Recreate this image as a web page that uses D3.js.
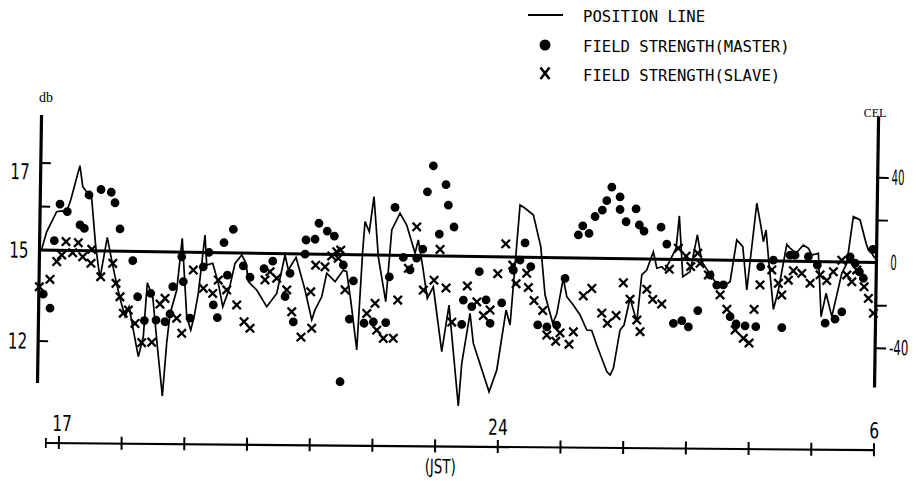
<!DOCTYPE html>
<html><head><meta charset="utf-8">
<script src="https://cdn.jsdelivr.net/npm/d3@7"></script>
<style>
body{margin:0;background:#fff;}
svg{display:block;}
</style></head><body>
<svg id="c" width="921" height="481"></svg>
<script>
// ---- data ----
// position line: hour (JST, 24 = midnight, 30 = 6 h), CEL
const posHour = [16.692,16.767,16.922,17.011,17.071,17.143,17.282,17.332,17.423,17.477,17.553,17.628,17.735,17.799,17.868,17.952,18.037,18.098,18.258,18.333,18.384,18.474,18.560,18.651,18.708,18.754,18.855,18.931,19.021,19.088,19.137,19.200,19.293,19.327,19.423,19.517,19.593,19.694,19.778,19.884,19.954,19.995,20.131,20.294,20.451,20.574,20.630,20.750,20.901,21.015,21.065,21.169,21.243,21.378,21.507,21.561,21.632,21.740,21.812,21.842,21.912,21.979,22.062,22.191,22.270,22.398,22.507,22.647,22.696,22.773,22.853,22.946,23.096,23.201,23.373,23.418,23.538,23.598,23.860,23.978,24.112,24.179,24.310,24.391,24.525,24.650,24.730,24.860,24.921,25.017,25.077,25.183,25.293,25.404,25.483,25.566,25.732,25.786,25.837,25.934,25.997,26.086,26.199,26.268,26.346,26.447,26.506,26.585,26.638,26.809,26.853,26.922,27.037,27.145,27.222,27.439,27.598,27.678,27.774,27.872,27.946,28.085,28.153,28.199,28.239,28.282,28.375,28.450,28.573,28.627,28.722,28.837,28.919,28.974,29.079,29.137,29.211,29.308,29.457,29.534,29.628,29.736,29.837,29.875,29.930,29.982];
const posCel = [0.3,8.6,18.1,18.5,17.4,23.7,39.9,30.0,26.5,24.6,1.9,-12.9,6.4,-2.6,-12.0,-22.1,-30.7,-26.0,-49.4,-40.0,-14.6,-21.1,-44.6,-67.7,-42.6,-29.1,-17.8,6.5,-30.3,-36.5,-30.5,-19.2,8.2,-5.9,-5.0,-14.4,-25.4,-16.7,-4.9,-0.9,-4.8,-13.4,-17.3,-25.0,-18.7,-0.6,-7.6,-1.6,-16.9,-30.9,-26.2,-20.0,-8.9,-12.8,-7.3,-8.0,-21.3,-44.7,2.3,15.6,10.9,27.4,-0.8,-21.8,11.9,19.8,14.3,1.1,7.4,-5.2,-20.0,-14.5,-44.9,-23.0,-70.3,-50.2,-26.7,-40.8,-63.4,-53.1,-24.9,-31.9,24.5,23.0,19.9,5.1,-17.6,-30.8,-26.3,-9.6,-18.2,-22.1,-26.7,-33.7,-33.9,-40.7,-53.1,-54.7,-51.5,-33.5,-31.1,-18.5,-29.5,-7.5,-5.1,3.5,-4.2,-3.5,-5.0,5.3,20.5,-8.0,-5.6,11.7,-0.8,-10.1,-11.6,-10.0,9.6,6.5,-13.8,27.0,16.8,9.0,14.5,2.0,-22.7,-13.6,7.9,6.1,3.8,7.7,6.2,3.1,3.9,-25.8,-14.8,-25.7,-5.3,-0.6,21.4,19.9,9.0,5.8,4.3,2.0];

// field strength (master), dB
const masterHour = [16.728,16.839,16.891,16.973,17.091,17.297,17.367,17.434,17.624,17.788,17.850,17.936,18.147,18.234,18.346,18.441,18.532,18.676,18.754,18.791,18.927,18.958,19.073,19.273,19.360,19.442,19.509,19.598,19.659,19.743,19.911,20.021,20.242,20.380,20.584,20.658,20.722,20.893,20.905,21.049,21.108,21.242,21.356,21.506,21.670,21.614,21.482,21.850,21.998,22.196,22.242,22.317,22.461,22.571,22.675,22.769,22.829,22.918,23.029,23.124,23.166,23.262,23.408,23.428,23.564,23.676,23.790,23.860,24.041,24.218,24.323,24.399,24.495,24.620,24.766,24.923,25.045,25.247,25.315,25.417,25.509,25.623,25.692,25.769,25.903,25.906,26.005,26.161,26.217,26.293,26.564,26.659,26.783,26.917,27.023,27.169,27.357,27.466,27.571,27.686,27.783,27.927,28.098,28.163,28.363,28.514,28.628,28.708,28.920,29.065,29.203,29.360,29.466,29.585,29.667,29.737,29.802,29.946];
const masterDb = [13.53,13.07,15.21,16.05,15.88,15.58,15.50,16.27,16.40,16.34,16.10,15.50,14.68,13.49,12.71,13.61,12.73,12.68,12.94,13.84,14.83,14.01,12.81,14.51,14.99,13.26,12.84,15.22,14.25,15.53,14.56,14.19,14.48,14.73,13.57,14.34,12.74,14.98,15.31,15.33,15.70,15.52,15.41,14.64,14.12,12.86,10.79,12.73,12.78,12.76,14.27,16.09,14.92,14.51,14.90,15.14,16.46,17.06,15.49,16.63,16.16,15.66,12.74,13.54,13.33,14.49,13.56,12.79,13.47,14.55,14.89,15.32,14.68,12.76,12.70,12.76,14.31,15.52,15.73,15.56,15.95,16.10,16.32,16.63,16.41,16.12,15.84,16.14,15.77,15.63,15.73,15.34,12.88,12.97,12.77,13.31,14.49,14.16,14.17,13.13,12.89,12.83,12.81,14.79,15.01,12.79,15.13,15.13,15.10,14.87,12.96,13.10,13.34,15.11,14.95,14.67,14.46,15.29];

// field strength (slave), dB
const slaveHour = [16.663,16.831,16.935,17.013,17.078,17.187,17.274,17.348,17.482,17.490,17.640,17.828,17.885,17.952,18.009,18.088,18.198,18.309,18.469,18.592,18.670,18.861,18.945,19.115,19.279,19.430,19.516,19.652,19.815,19.936,20.033,20.261,20.338,20.447,20.609,20.694,20.848,20.992,21.017,21.065,21.214,21.319,21.397,21.461,21.424,21.539,21.891,22.021,22.054,22.161,22.320,22.382,22.544,22.667,22.788,22.956,23.045,23.149,23.249,23.489,23.643,23.751,23.856,23.971,24.091,24.207,24.265,24.433,24.462,24.556,24.697,24.767,24.911,24.978,25.124,25.190,25.341,25.474,25.638,25.731,25.868,25.976,26.086,26.199,26.254,26.351,26.448,26.593,26.706,26.845,26.970,27.047,27.155,27.195,27.330,27.522,27.632,27.770,27.902,27.995,28.067,28.156,28.340,28.448,28.505,28.607,28.684,28.819,28.954,29.111,29.219,29.322,29.453,29.537,29.619,29.695,29.816,29.887,29.971];
const slaveDb = [13.77,14.02,14.61,14.83,15.19,14.91,15.17,14.78,14.57,15.02,14.13,14.58,13.92,13.48,12.94,13.05,12.61,11.98,12.00,13.26,13.45,12.80,12.31,14.40,13.80,13.64,14.08,13.76,13.27,12.72,12.51,14.11,14.38,14.17,13.79,13.07,12.24,13.74,12.54,14.62,14.57,14.93,15.05,15.09,14.86,13.82,13.05,13.39,12.51,12.24,12.25,13.51,14.56,15.65,13.85,14.18,15.14,13.93,12.81,14.01,13.49,13.04,13.23,14.43,15.29,14.72,14.11,14.46,13.99,13.56,13.24,12.43,12.23,12.51,12.14,12.55,13.74,13.99,13.18,12.85,13.11,14.19,13.65,12.97,12.59,13.99,13.66,13.51,14.66,15.25,15.07,14.76,15.14,14.87,14.49,13.84,13.37,12.69,12.42,12.27,13.38,14.19,14.69,14.25,13.87,14.36,14.67,14.59,14.27,14.55,14.37,14.66,15.03,14.56,14.34,14.73,14.18,13.80,13.31];

// ticks / labels
const dbTicks = [17, 16, 15, 12];
const dbTickLabels = ["17", "", "15", "12"];
const celTicks = [40, 20, 0, -20, -40];
const celTickLabels = ["40", "", "0", "", "-40"];
const hourTicks = [17,18,19,20,21,22,23,24,25,26,27,28,29,30];
const hourTickLabels = ["17","","","","","","","24","","","","","","6"];
const legendLabels = ["POSITION LINE", "FIELD STRENGTH(MASTER)", "FIELD STRENGTH(SLAVE)"];

// ---- drawing ----
const svg = d3.select("#c");
const numFont = '"Liberation Sans Narrow","DejaVu Sans Condensed","Liberation Sans",sans-serif';
const monoFont = '"DejaVu Sans Mono",monospace';
const serifFont = '"Liberation Serif","DejaVu Serif",serif';

const x = d3.scaleLinear().domain([17, 30]).range([61, 876.1]);
const yDb = d3.scaleLinear().domain([12, 15, 17]).range([340.5, 249.5, 162.5]);
const yCel = d3.scaleLinear().domain([-40, 40]).range([335.2, 164.8]);

// the scanned original is slightly rotated
const g = svg.append("g").attr("transform", "rotate(0.86,40,250)");

// left axis
g.append("line").attr("x1", 39.5).attr("x2", 39.5).attr("y1", 115).attr("y2", 383)
  .attr("stroke", "#000").attr("stroke-width", 3.2);
const la = g.append("g").attr("transform", "translate(39.5,0)")
  .call(d3.axisLeft(yDb).tickValues(dbTicks).tickSize(-10).tickPadding(11)
        .tickFormat((d, i) => dbTickLabels[i]));
la.select(".domain").remove();
la.selectAll(".tick line").attr("stroke", "#000").attr("stroke-width", 2);
la.selectAll(".tick text").attr("font-family", numFont).attr("font-size", 22)
  .attr("fill", "#000").attr("dy", (d) => d === 17 ? "0.75em" : "0.36em")
  .attr("textLength", (d, i) => dbTickLabels[i].length * 9.6)
  .attr("lengthAdjust", "spacingAndGlyphs");

// right axis
g.append("line").attr("x1", 876.5).attr("x2", 876.5).attr("y1", 104).attr("y2", 375)
  .attr("stroke", "#000").attr("stroke-width", 3.2);
const ra = g.append("g").attr("transform", "translate(876.5,0)")
  .call(d3.axisRight(yCel).tickValues(celTicks).tickSize(11).tickPadding(3)
        .tickFormat((d, i) => celTickLabels[i]));
ra.select(".domain").remove();
ra.selectAll(".tick line").attr("stroke", "#000").attr("stroke-width", 2)
  .attr("opacity", (d) => d === 0 ? 0 : 1);
ra.selectAll(".tick text").attr("font-family", numFont).attr("font-size", 21)
  .attr("fill", "#000")
  .attr("textLength", (d, i) => celTickLabels[i].length * 6.4)
  .attr("lengthAdjust", "spacingAndGlyphs");

// zero / reference line
g.append("line").attr("x1", 40).attr("x2", 876.5).attr("y1", yCel(0)).attr("y2", yCel(0))
  .attr("stroke", "#000").attr("stroke-width", 3);

// position line
const line = d3.line().x((d) => x(d[0])).y((d) => yCel(d[1]));
g.append("path").datum(posHour.map((h, i) => [h, posCel[i]]))
  .attr("d", line).attr("fill", "none").attr("stroke", "#000")
  .attr("stroke-width", 1.7).attr("stroke-linejoin", "miter");

// master dots
g.append("g").selectAll("circle").data(masterHour.map((h, i) => [h, masterDb[i]]))
  .join("circle").attr("cx", (d) => x(d[0])).attr("cy", (d) => yDb(d[1]))
  .attr("r", 4.4).attr("fill", "#000");

// slave crosses
const cs = 4.2;
g.append("g").selectAll("path").data(slaveHour.map((h, i) => [h, slaveDb[i]]))
  .join("path")
  .attr("d", (d) => {
    const cx = x(d[0]), cy = yDb(d[1]);
    return `M${cx - cs},${cy - cs}L${cx + cs},${cy + cs}M${cx + cs},${cy - cs}L${cx - cs},${cy + cs}`;
  })
  .attr("stroke", "#000").attr("stroke-width", 2.3).attr("fill", "none");

// bottom time axis (drawn separately on the original)
const bg = svg.append("g").attr("transform", "rotate(0.5,48,443) translate(-2.6,443)");
bg.append("line").attr("x1", x(16.8)).attr("x2", x(30)).attr("y1", 0).attr("y2", 0)
  .attr("stroke", "#000").attr("stroke-width", 2.2);
bg.append("line").attr("x1", x(16.8)).attr("x2", x(16.8)).attr("y1", -5).attr("y2", 5)
  .attr("stroke", "#000").attr("stroke-width", 1.8);
const ba = bg.append("g")
  .call(d3.axisTop(x).tickValues(hourTicks).tickSize(7).tickPadding(5)
        .tickFormat((d, i) => hourTickLabels[i]));
ba.select(".domain").remove();
ba.selectAll(".tick line").attr("stroke", "#000").attr("stroke-width", 2)
  .attr("y1", 6).attr("y2", -7);
ba.selectAll(".tick text").attr("font-family", numFont).attr("font-size", 22)
  .attr("fill", "#000").attr("dx", (d) => d === 17 ? 3 : 0)
  .attr("textLength", (d, i) => hourTickLabels[i].length * 9.8)
  .attr("lengthAdjust", "spacingAndGlyphs");
bg.append("text").attr("x", 443).attr("y", 27).attr("text-anchor", "middle")
  .attr("font-family", numFont).attr("font-size", 20).attr("fill", "#000")
  .attr("textLength", 31).attr("lengthAdjust", "spacingAndGlyphs").text("(JST)");

// unit labels
svg.append("text").attr("x", 46).attr("y", 102).attr("text-anchor", "middle")
  .attr("font-family", serifFont).attr("font-size", 14).attr("fill", "#000").text("db");
svg.append("text").attr("x", 875).attr("y", 117).attr("text-anchor", "middle")
  .attr("font-family", serifFont).attr("font-size", 12).attr("fill", "#000").text("CEL");

// legend
const lg = svg.append("g");
lg.append("line").attr("x1", 528).attr("x2", 563).attr("y1", 15).attr("y2", 15)
  .attr("stroke", "#000").attr("stroke-width", 2.2);
lg.append("circle").attr("cx", 545).attr("cy", 45).attr("r", 5.5).attr("fill", "#000");
lg.append("path").attr("d", "M540.5,67.5L549.5,79M549.5,67.5L540.5,79")
  .attr("stroke", "#000").attr("stroke-width", 2.6).attr("fill", "none");
lg.selectAll("text.lt").data(legendLabels).join("text").attr("class", "lt")
  .attr("x", 583).attr("y", (d, i) => [22, 52, 81][i])
  .attr("font-family", monoFont).attr("font-size", 15.6).attr("fill", "#000")
  .text((d) => d);
</script>
</body></html>
